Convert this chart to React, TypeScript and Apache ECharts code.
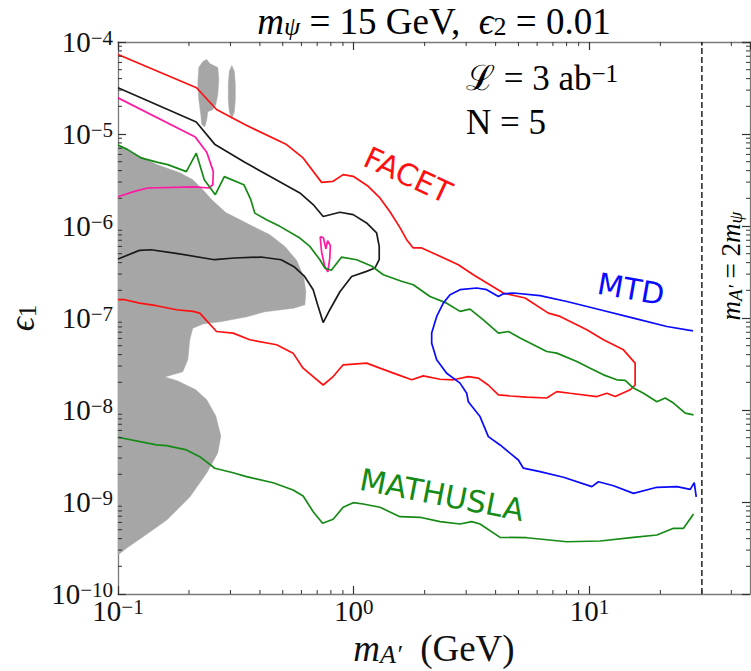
import React, { useEffect, useRef } from 'react';
import * as echarts from 'echarts';

const SERIF = "'Liberation Serif', 'DejaVu Serif', serif";
const SANS = "'DejaVu Sans', sans-serif";

const X_MIN = 0.1;
const X_MAX = 48;
const Y_MIN = 1e-10;
const Y_MAX = 1e-4;
const MASS_LINE = 30; // m_A' = 2 m_psi

const xMinorTicks = [0.2, 0.3, 0.4, 0.5, 0.6, 0.7, 0.8, 0.9, 2, 3, 4, 5, 6, 7, 8, 9, 20, 30, 40];
const yDecades = [1e-10, 1e-9, 1e-8, 1e-7, 1e-6, 1e-5];
const yMinorMult = [2, 3, 4, 5, 6, 7, 8, 9];

const facet: number[][] = [
  [0.1, 7.31e-5], [0.2153, 3.18e-5], [0.2618, 1.845e-5], [0.345, 1.265e-5], [0.519, 7.67e-6], [0.61, 5.5e-6],
  [0.7305, 2.98e-6], [0.818, 3.06e-6], [0.902, 3.62e-6], [0.995, 3.47e-6], [1.152, 2.7e-6], [1.292, 2.02e-6],
  [1.425, 1.43e-6], [1.571, 9.59e-7], [1.677, 7.1e-7], [1.789, 5.77e-7], [1.942, 5.77e-7], [2.249, 4.88e-7],
  [2.778, 3.79e-7], [3.216, 2.95e-7], [4.314, 1.87e-7], [5.333, 1.65e-7], [6.698, 1.13e-7], [7.51, 1.04e-7],
  [9.75, 7.45e-8], [11.47, 5.8e-8], [13.94, 4.51e-8], [15.63, 3.23e-8], [15.63, 1.87e-8], [14.89, 1.66e-8],
  [12.86, 1.4e-8], [11.86, 1.52e-8], [10.75, 1.4e-8], [8.28, 1.52e-8], [7.27, 1.585e-8], [6.59, 1.35e-8],
  [5.42, 1.38e-8], [4.61, 1.42e-8], [4.11, 1.46e-8], [3.72, 1.87e-8], [3.38, 2.22e-8], [3.06, 2.31e-8],
  [2.646, 2.13e-8], [2.323, 2.16e-8], [1.973, 2.35e-8], [1.762, 2.13e-8], [1.545, 2.41e-8], [1.292, 2.85e-8],
  [1.134, 3.23e-8], [0.902, 3.1e-8], [0.818, 2.31e-8], [0.742, 1.87e-8], [0.673, 2.31e-8], [0.61, 2.85e-8],
  [0.553, 4.15e-8], [0.471, 5.12e-8], [0.3624, 5.8e-8], [0.3078, 6.85e-8], [0.2618, 7.13e-8], [0.2223, 1.13e-7],
  [0.2082, 1.18e-7], [0.177, 1.23e-7], [0.1456, 1.36e-7], [0.1236, 1.45e-7], [0.1068, 1.58e-7], [0.1, 1.58e-7],
];

const faser2: number[][] = [
  [0.1, 3.18e-5], [0.2148, 1.35e-5], [0.258, 7.67e-6], [0.345, 4.92e-6], [0.4406, 3.47e-6], [0.591, 2.29e-6],
  [0.673, 1.71e-6], [0.742, 1.27e-6], [0.874, 1.41e-6], [0.995, 1.33e-6], [1.134, 1.08e-6], [1.251, 8.4e-7],
  [1.283, 6.0e-7], [1.283, 4.3e-7], [1.23, 3.49e-7], [1.134, 3.21e-7], [0.98, 2.83e-7], [0.874, 1.93e-7],
  [0.792, 1.23e-7], [0.742, 8.93e-8], [0.705, 1.36e-7], [0.673, 2.03e-7], [0.619, 2.83e-7], [0.561, 3.58e-7],
  [0.492, 4.3e-7], [0.4046, 4.6e-7], [0.312, 4.49e-7], [0.2566, 4.3e-7], [0.1736, 5.08e-7], [0.138, 5.52e-7],
  [0.1233, 5.43e-7], [0.1, 4.38e-7],
];

const faser: number[][] = [
  [0.1, 2.47e-5], [0.2128, 9.25e-6], [0.2379, 6.35e-6], [0.2537, 3.9e-6], [0.2525, 2.81e-6], [0.2427, 2.59e-6],
  [0.2117, 2.66e-6], [0.1337, 2.59e-6], [0.1174, 2.38e-6], [0.1, 2.08e-6],
];

const faserIsland: number[][] = [
  [0.7207, 7.66e-7], [0.7305, 5.25e-7], [0.7545, 3.61e-7], [0.777, 3.18e-7], [0.792, 4.52e-7], [0.796, 6.11e-7],
  [0.775, 6.92e-7], [0.762, 5.66e-7], [0.7436, 7.46e-7], [0.7207, 7.66e-7],
];

const greenUpper: number[][] = [
  [0.1, 7.57e-6], [0.11, 6.76e-6], [0.1252, 5.5e-6], [0.1474, 4.92e-6], [0.1626, 4.65e-6], [0.1949, 3.9e-6],
  [0.2148, 6.19e-6], [0.2323, 3.19e-6], [0.2587, 2.19e-6], [0.2825, 3.44e-6], [0.3418, 2.81e-6], [0.366, 1.93e-6],
  [0.3805, 1.38e-6], [0.4267, 1.17e-6], [0.486, 9.91e-7], [0.591, 7.4e-7], [0.6517, 6.0e-7], [0.7186, 4.3e-7],
  [0.7545, 3.49e-7], [0.804, 3.3e-7], [0.8867, 4.58e-7], [1.029, 4.3e-7], [1.195, 3.65e-7], [1.335, 2.95e-7],
  [1.594, 2.51e-7], [1.789, 2.3e-7], [2.107, 1.71e-7], [2.48, 1.45e-7], [2.825, 1.18e-7], [3.114, 1.25e-7],
  [3.548, 9.56e-8], [4.11, 6.85e-8], [4.53, 7.13e-8], [5.08, 6.05e-8], [6.59, 4.32e-8], [7.27, 4.15e-8],
  [8.84, 3.37e-8], [10.07, 2.85e-8], [11.47, 2.41e-8], [13.07, 2.13e-8], [14.18, 2.1e-8], [15.38, 1.73e-8],
  [16.96, 1.52e-8], [19.33, 1.23e-8], [20.96, 1.35e-8], [22.74, 1.19e-8], [25.49, 9.23e-9], [27.65, 8.85e-9],
];

const mathusla: number[][] = [
  [0.1, 5.06e-9], [0.1456, 4.17e-9], [0.1605, 4.1e-9], [0.1952, 3.68e-9], [0.2223, 3.11e-9], [0.2574, 2.33e-9],
  [0.3078, 2.08e-9], [0.3508, 1.89e-9], [0.455, 1.62e-9], [0.553, 1.35e-9], [0.61, 1.16e-9], [0.673, 7.85e-10],
  [0.738, 5.87e-10], [0.818, 6.49e-10], [0.902, 8.76e-10], [0.995, 9.83e-10], [1.097, 9.51e-10], [1.292, 8.76e-10],
  [1.571, 6.92e-10], [1.91, 6.82e-10], [2.323, 6.11e-10], [2.825, 5.77e-10], [3.167, 6.11e-10], [3.435, 5.77e-10],
  [4.177, 4.13e-10], [5.42, 4.09e-10], [8.02, 3.7e-10], [11.1, 3.77e-10], [15.38, 4.13e-10], [19.33, 4.38e-10],
  [22.74, 5.18e-10], [25.07, 5.18e-10], [27.65, 7.41e-10],
];

const mtd: number[][] = [
  [27.49, 7.26e-8], [21.31, 8.08e-8], [15.38, 9.98e-8], [11.1, 1.23e-7], [8.02, 1.51e-7], [6.17, 1.75e-7],
  [4.76, 1.87e-7], [4.314, 1.83e-7], [4.11, 1.71e-7], [3.667, 2.03e-7], [3.325, 2.12e-7], [2.825, 2.03e-7],
  [2.562, 1.79e-7], [2.399, 1.45e-7], [2.249, 1.04e-7], [2.142, 6.85e-8], [2.142, 5.33e-8], [2.249, 3.51e-8],
  [2.48, 2.51e-8], [2.825, 1.96e-8], [3.016, 1.52e-8], [3.063, 1.23e-8], [3.435, 8.48e-9], [3.725, 5.14e-9],
  [4.177, 4.17e-9], [4.995, 2.86e-9], [5.246, 2.33e-9], [6.17, 2.14e-9], [7.76, 1.86e-9], [10.24, 1.47e-9],
  [10.92, 1.66e-9], [12.65, 1.5e-9], [15.38, 1.24e-9], [19.33, 1.445e-9], [23.5, 1.47e-9], [26.77, 1.37e-9],
  [27.84, 1.62e-9], [28.39, 1.14e-9],
];

const grayMain: number[][] = [
  [0.1, 7.34e-6], [0.1155, 6.27e-6], [0.146, 4.65e-6], [0.1828, 3.8e-6], [0.2076, 3.19e-6], [0.229, 2.48e-6],
  [0.25, 1.93e-6], [0.2867, 1.4e-6], [0.3624, 1.03e-6], [0.4406, 8.04e-7], [0.5104, 6.0e-7], [0.574, 4.19e-7],
  [0.6145, 2.74e-7], [0.6266, 1.93e-7], [0.6205, 1.39e-7], [0.557, 1.28e-7], [0.4197, 1.17e-7], [0.352, 1.03e-7],
  [0.2756, 9.16e-8], [0.2311, 8.65e-8], [0.2076, 7.76e-8], [0.2016, 5.8e-8], [0.1977, 3.51e-8], [0.1882, 2.6e-8],
  [0.1579, 2.29e-8], [0.1793, 2.07e-8], [0.2138, 1.66e-8], [0.2379, 1.29e-8], [0.26, 8.63e-9], [0.273, 5.23e-9],
  [0.265, 3.41e-9], [0.2379, 2.07e-9], [0.2016, 1.13e-9], [0.161, 6.37e-10], [0.1273, 4.16e-10], [0.1089, 3.16e-10],
  [0.1, 2.65e-10],
];

const grayBlob1: number[][] = [
  [0.2202, 5.28e-5], [0.229, 6.13e-5], [0.2379, 6.45e-5], [0.245, 5.83e-5], [0.2548, 5.55e-5], [0.2651, 5.28e-5],
  [0.2677, 3.91e-5], [0.2651, 2.68e-5], [0.26, 2.09e-5], [0.2523, 1.84e-5], [0.2403, 1.75e-5], [0.2379, 1.43e-5],
  [0.2335, 1.2e-5], [0.2267, 1.27e-5], [0.2245, 1.63e-5], [0.2202, 2.37e-5], [0.218, 3.45e-5],
];

const grayBlob2: number[][] = [
  [0.304, 5.55e-5], [0.3115, 4.78e-5], [0.3146, 3.45e-5], [0.3146, 2.37e-5], [0.3115, 1.75e-5], [0.304, 1.47e-5],
  [0.2966, 1.75e-5], [0.2937, 2.37e-5], [0.2937, 3.45e-5], [0.2966, 4.78e-5],
];

const RED = '#ff1010';
const BLACK = '#1a1a1a';
const PINK = '#ff19a3';
const GREEN = '#158a15';
const BLUE = '#0a0aff';
const GRAY = '#a6a6a6';
const TEXT = '#111111';
const TICK = '#333333';
const FRAME = '#7a7a7a';

const powLabel = (v: number) => {
  const l = Math.log10(v);
  const e = Math.round(l);
  if (Math.abs(l - e) > 1e-6) return '';
  return `{b|10}{s|${e < 0 ? '\u2212' : ''}${Math.abs(e)}}`;
};

const tickRich = {
  b: { fontFamily: SERIF, fontSize: 29, color: TEXT, lineHeight: 30 },
  s: { fontFamily: SERIF, fontSize: 21, color: TEXT, verticalAlign: 'top', lineHeight: 22 },
};

const mathRich = (size: number) => ({
  i: { fontFamily: SERIF, fontStyle: 'italic', fontSize: size, color: TEXT },
  r: { fontFamily: SERIF, fontSize: size, color: TEXT },
  sub: { fontFamily: SERIF, fontStyle: 'italic', fontSize: Math.round(size * 0.7), color: TEXT, verticalAlign: 'bottom' },
  subr: { fontFamily: SERIF, fontSize: Math.round(size * 0.7), color: TEXT, verticalAlign: 'bottom' },
  sup: { fontFamily: SERIF, fontSize: Math.round(size * 0.7), color: TEXT, verticalAlign: 'top' },
});

function lineSeries(name: string, data: number[][], color: string) {
  return {
    type: 'line',
    name,
    data,
    showSymbol: false,
    symbol: 'none',
    clip: true,
    z: 3,
    lineStyle: { color, width: 1.7 },
    itemStyle: { color },
  };
}

function polySeries(name: string, pts: number[][]) {
  return {
    type: 'custom',
    name,
    coordinateSystem: 'cartesian2d',
    silent: true,
    z: 1,
    data: [[1, 1e-7]],
    renderItem: (_p: any, api: any) => ({
      type: 'polygon',
      shape: { points: pts.map((p) => api.coord(p)) },
      style: { fill: GRAY, stroke: GRAY, lineWidth: 0.5 },
    }),
  };
}

const centered = { align: 'center', verticalAlign: 'middle', textAlign: 'center', textVerticalAlign: 'middle' };
const leftMid = { align: 'left', verticalAlign: 'middle', textAlign: 'left', textVerticalAlign: 'middle' };

export default function App() {
  const ref = useRef<HTMLDivElement>(null);
  useEffect(() => {
    document.body.style.margin = '0';
    const chart = echarts.init(ref.current!, undefined, { renderer: 'svg' });
    const yMinor: number[][] = [];
    yDecades.forEach((d) => yMinorMult.forEach((m) => yMinor.push([1, m * d])));

    const baseX = {
      type: 'log',
      logBase: 10,
      min: X_MIN,
      max: X_MAX,
      splitLine: { show: false },
      axisLine: { show: true, lineStyle: { color: FRAME, width: 1.3 } },
      axisTick: { show: true, inside: true, length: 8, lineStyle: { color: TICK, width: 1.2 } },
    };
    const baseY = {
      type: 'log',
      logBase: 10,
      min: Y_MIN,
      max: Y_MAX,
      splitLine: { show: false },
      axisLine: { show: true, lineStyle: { color: FRAME, width: 1.3 } },
      axisTick: { show: true, inside: true, length: 8, lineStyle: { color: TICK, width: 1.2 } },
    };

    const option: any = {
      animation: false,
      backgroundColor: '#ffffff',
      grid: { left: 118, right: 1, top: 42, bottom: 77, containLabel: false, outerBoundsMode: 'none' },
      xAxis: [
        {
          ...baseX,
          position: 'bottom',
          axisLabel: { formatter: powLabel, margin: 17, verticalAlign: 'middle', rich: tickRich, showMaxLabel: false },
          name: '{i|m}{sub|A\u2032}{r|  (GeV)}',
          nameLocation: 'middle',
          nameGap: 51,
          nameTextStyle: { rich: mathRich(37), verticalAlign: 'middle' },
        },
        { ...baseX, position: 'top', axisLabel: { show: false } },
      ],
      yAxis: [
        {
          ...baseY,
          position: 'left',
          axisLabel: { formatter: powLabel, margin: 5, rich: tickRich },
          name: '{i|\u03f5}{subr|1}',
          nameLocation: 'middle',
          nameRotate: 90,
          nameGap: 78,
          nameTextStyle: { rich: mathRich(35) },
        },
        { ...baseY, position: 'right', axisLabel: { show: false } },
      ],
      graphic: [
        {
          type: 'text',
          x: 434,
          y: 21,
          style: {
            text: '{i|m}{sub|\u03c8}{r| = 15 GeV,  }{i|\u03f5}{subr|2}{r| = 0.01}',
            rich: mathRich(37),
            ...centered,
          },
        },
        {
          type: 'text',
          x: 466,
          y: 78,
          style: { text: '{r|\u2112 = 3 ab}{sup|\u22121}', rich: mathRich(35), ...leftMid },
        },
        {
          type: 'text',
          x: 466,
          y: 122,
          style: { text: '{r|N = 5}', rich: mathRich(35), ...leftMid },
        },
        {
          type: 'text',
          x: 731,
          y: 266,
          rotation: Math.PI / 2,
          style: { text: '{i|m}{sub|A\u2032}{r| = 2}{i|m}{sub|\u03c8}', rich: mathRich(27), ...centered },
        },
        {
          type: 'text', x: 408, y: 175, rotation: (-25 * Math.PI) / 180,
          style: { text: 'FACET', fill: RED, fontFamily: SANS, fontSize: 30, ...centered },
        },
        {
          type: 'text', x: 172, y: 212,
          style: { text: 'FASER', fill: PINK, fontFamily: SANS, fontSize: 29, ...centered },
        },
        {
          type: 'text', x: 217, y: 281,
          style: { text: 'FASER2', fill: BLACK, fontFamily: SANS, fontSize: 29, ...centered },
        },
        {
          type: 'text', x: 631, y: 289, rotation: (-10 * Math.PI) / 180,
          style: { text: 'MTD', fill: BLUE, fontFamily: SANS, fontSize: 30, ...centered },
        },
        {
          type: 'text', x: 442, y: 495, rotation: (-11 * Math.PI) / 180,
          style: { text: 'MATHUSLA', fill: GREEN, fontFamily: SANS, fontSize: 30.5, ...centered },
        },
      ],
      series: [
        polySeries('excluded', grayMain),
        polySeries('excluded-2', grayBlob1),
        polySeries('excluded-3', grayBlob2),
        lineSeries('FACET', facet, RED),
        lineSeries('FASER2', faser2, BLACK),
        lineSeries('FASER', faser, PINK),
        lineSeries('FASER island', faserIsland, PINK),
        lineSeries('upper green', greenUpper, GREEN),
        lineSeries('MATHUSLA', mathusla, GREEN),
        lineSeries('MTD', mtd, BLUE),
        {
          type: 'line',
          name: '2 m_psi',
          data: [[MASS_LINE, Y_MIN], [MASS_LINE, Y_MAX]],
          showSymbol: false,
          symbol: 'none',
          z: 4,
          lineStyle: { color: '#111', width: 1.4, type: [6, 3] },
        },
        {
          type: 'custom',
          name: 'x minor ticks',
          coordinateSystem: 'cartesian2d',
          silent: true,
          z: 6,
          data: xMinorTicks.map((v) => [v, 1e-7]),
          renderItem: (params: any, api: any) => {
            const cs = params.coordSys;
            const x = api.coord([api.value(0), 1e-7])[0];
            const b = cs.y + cs.height;
            return {
              type: 'group',
              children: [
                { type: 'line', shape: { x1: x, y1: b, x2: x, y2: b - 4 }, style: { stroke: TICK, lineWidth: 1 } },
                { type: 'line', shape: { x1: x, y1: cs.y, x2: x, y2: cs.y + 4 }, style: { stroke: TICK, lineWidth: 1 } },
              ],
            };
          },
        },
        {
          type: 'custom',
          name: 'y minor ticks',
          coordinateSystem: 'cartesian2d',
          silent: true,
          z: 6,
          data: yMinor,
          renderItem: (params: any, api: any) => {
            const cs = params.coordSys;
            const y = api.coord([1, api.value(1)])[1];
            const r = cs.x + cs.width;
            return {
              type: 'group',
              children: [
                { type: 'line', shape: { x1: cs.x, y1: y, x2: cs.x + 4, y2: y }, style: { stroke: TICK, lineWidth: 1 } },
                { type: 'line', shape: { x1: r, y1: y, x2: r - 4, y2: y }, style: { stroke: TICK, lineWidth: 1 } },
              ],
            };
          },
        },
      ],
    };
    chart.setOption(option);
    return () => chart.dispose();
  }, []);
  return <div ref={ref} style={{ width: 751, height: 671 }} />;
}
